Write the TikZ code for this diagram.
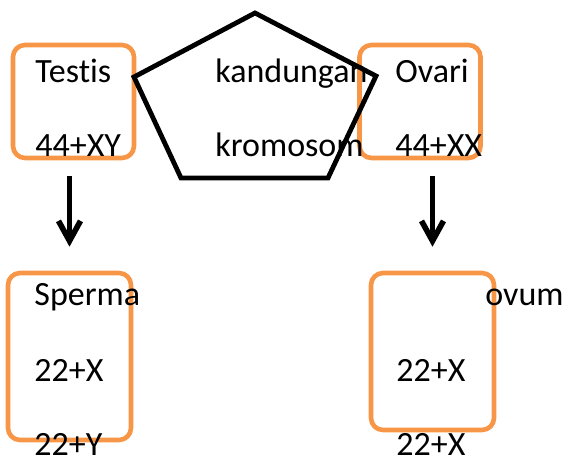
\documentclass[tikz,border=0pt]{standalone}
\usepackage{fontspec}
\setmainfont[Ligatures=NoCommon]{Carlito}
\usetikzlibrary{arrows.meta, positioning}
\definecolor{boxorange}{HTML}{F79646}
\tikzstyle{organ} = [rectangle, rounded corners=6pt, draw=boxorange, line width=2.3pt, inner sep=0pt]
\tikzstyle{txt} = [anchor=base west, inner sep=0pt, font=\fontsize{17}{20}\selectfont]
\tikzstyle{arrow} = [line width=2.8pt, -{Straight Barb[length=10pt,width=11pt]}, shorten <=8pt, shorten >=12pt]

\begin{document}
\begin{tikzpicture}[x=0.5pt, y=-0.5pt]
\useasboundingbox (0,0) rectangle (566,459);

% boxes
\node (testis) [organ, minimum width=60.5pt, minimum height=56.5pt] at (73.5,101.5) {};
\node (ovari) [organ, minimum width=60.5pt, minimum height=56.5pt] at (420,101.5) {};
\node (sperma) [organ, minimum width=61.5pt, minimum height=83.5pt] at (69.5,356.5) {};
\node (ovum) [organ, minimum width=61.5pt, minimum height=78.5pt] at (432.5,351.5) {};

% pentagon
\coordinate (ptop) at (255,13);
\coordinate (pright) at (376,76);
\coordinate (pbr) at (328,178);
\coordinate (pbl) at (181,178);
\coordinate (pleft) at (134,77);
\draw [line width=2.4pt, miter limit=10] (ptop) -- (pright) -- (pbr) -- (pbl) -- (pleft) -- cycle;

% texts
\node (testisname) [txt] at (35,83) {Testis};
\node (testischrom) [txt] at (35,157) {44+XY};
\node (kandungan) [txt] at (215,83) {kandungan};
\node (kromosom) [txt] at (215,157) {kromosom};
\node (ovariname) [txt] at (395,83) {Ovari};
\node (ovarichrom) [txt] at (395,157) {44+XX};
\node (spermaname) [txt] at (34,305) {Sperma};
\node (spermax) [txt] at (34,381) {22+X};
\node (spermay) [txt] at (34,455) {22+Y};
\node (ovumname) [txt] at (485,305) {ovum};
\node (ovumxa) [txt] at (396,381) {22+X};
\node (ovumxb) [txt] at (396,455) {22+X};

% arrows
\draw [arrow] (sperma.north |- testis.south) -- (sperma.north);
\draw [arrow] (ovum.north |- ovari.south) -- (ovum.north);

\end{tikzpicture}
\end{document}
